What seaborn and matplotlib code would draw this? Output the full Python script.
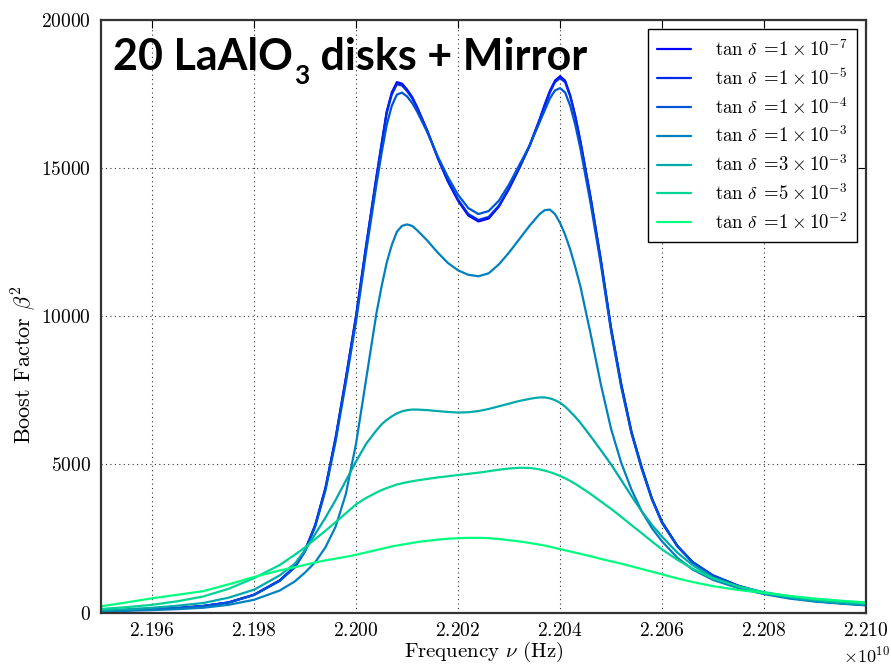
import numpy as np
import pandas as pd
import matplotlib
matplotlib.use("Agg")
import matplotlib.pyplot as plt
import matplotlib.ticker as mticker
import seaborn as sns

# ---------------- data (frequency in units of 1e10 Hz) ----------------
freq = [2.1950, 2.1955, 2.1960, 2.1965, 2.1970, 2.1975, 2.1980, 2.1985, 2.1988, 2.1990,
        2.1992, 2.1994, 2.1996, 2.1998, 2.2000, 2.2002, 2.2004, 2.2005, 2.2006, 2.2007,
        2.2008, 2.2009, 2.2010, 2.2011, 2.2012, 2.2014, 2.2016, 2.2018, 2.2020, 2.2022,
        2.2024, 2.2026, 2.2028, 2.2030, 2.2032, 2.2034, 2.2035, 2.2036, 2.2037, 2.2038,
        2.2039, 2.2040, 2.2041, 2.2042, 2.2043, 2.2044, 2.2046, 2.2048, 2.2050, 2.2052,
        2.2054, 2.2056, 2.2058, 2.2060, 2.2063, 2.2066, 2.2070, 2.2075, 2.2080, 2.2085,
        2.2090, 2.2095, 2.2100]

boost_1e7 = [60, 80, 110, 150, 220, 340, 600, 1080, 1550, 2100,
             2950, 4200, 5900, 7900, 10000, 12400, 14700, 15800, 16900, 17550,
             17900, 17850, 17650, 17400, 17050, 16250, 15350, 14550, 13900, 13400,
             13200, 13300, 13700, 14300, 15000, 15750, 16200, 16650, 17150, 17600,
             17950, 18100, 17950, 17450, 16750, 15900, 14000, 11900, 9600, 7700,
             6100, 4900, 3850, 3050, 2250, 1700, 1250, 900, 660, 500,
             390, 320, 260]
boost_1e5 = [60, 80, 110, 150, 220, 340, 600, 1080, 1550, 2100,
             2950, 4200, 5900, 7900, 10000, 12400, 14700, 15780, 16850, 17480,
             17830, 17790, 17600, 17360, 17020, 16240, 15360, 14580, 13940, 13450,
             13250, 13350, 13730, 14320, 15000, 15740, 16180, 16620, 17100, 17550,
             17900, 18040, 17900, 17420, 16720, 15880, 13980, 11880, 9590, 7690,
             6090, 4900, 3850, 3050, 2250, 1700, 1250, 900, 660, 500,
             390, 320, 260]
boost_1e4 = [60, 80, 110, 150, 215, 335, 590, 1060, 1520, 2060,
             2900, 4120, 5780, 7750, 9820, 12200, 14450, 15500, 16450, 17100,
             17480, 17550, 17420, 17200, 16900, 16200, 15400, 14700, 14100, 13650,
             13450, 13550, 13900, 14450, 15100, 15750, 16150, 16550, 16950, 17350,
             17620, 17700, 17550, 17100, 16450, 15650, 13800, 11750, 9500, 7600,
             6050, 4850, 3820, 3020, 2230, 1690, 1240, 890, 650, 495,
             385, 315, 255]
boost_1e3 = [40, 60, 80, 115, 160, 260, 430, 740, 1050, 1350,
             1700, 2200, 2900, 4000, 5700, 7900, 10100, 11000, 11800, 12400,
             12850, 13050, 13100, 13050, 12900, 12550, 12150, 11800, 11550, 11400,
             11350, 11450, 11750, 12150, 12600, 13050, 13250, 13450, 13580, 13600,
             13450, 13150, 12750, 12250, 11650, 11000, 9400, 7700, 6200, 5050,
             4150, 3420, 2850, 2400, 1850, 1450, 1100, 820, 620, 470,
             370, 300, 240]
boost_3e3 = [70, 110, 160, 230, 320, 500, 770, 1250, 1650, 2100,
             2650, 3200, 3800, 4450, 5100, 5700, 6150, 6350, 6500, 6620,
             6720, 6790, 6830, 6850, 6850, 6830, 6800, 6770, 6750, 6760,
             6800, 6870, 6960, 7050, 7140, 7210, 7240, 7260, 7260, 7230,
             7170, 7080, 6950, 6780, 6600, 6400, 5950, 5480, 5000, 4470,
             3930, 3420, 2960, 2560, 2020, 1600, 1170, 860, 660, 510,
             400, 330, 280]
boost_5e3 = [120, 180, 260, 380, 540, 800, 1160, 1600, 1950, 2200,
             2480, 2760, 3050, 3350, 3650, 3870, 4050, 4130, 4200, 4260,
             4320, 4360, 4400, 4430, 4460, 4510, 4560, 4600, 4640, 4680,
             4720, 4770, 4820, 4860, 4885, 4880, 4860, 4830, 4790, 4740,
             4680, 4610, 4530, 4440, 4340, 4230, 4000, 3750, 3500, 3230,
             2950, 2680, 2400, 2130, 1780, 1480, 1150, 880, 690, 550,
             440, 370, 310]
boost_1e2 = [210, 340, 480, 600, 720, 950, 1200, 1420, 1530, 1610,
             1690, 1760, 1820, 1880, 1950, 2030, 2110, 2150, 2190, 2230,
             2260, 2290, 2320, 2350, 2380, 2420, 2460, 2490, 2510, 2520,
             2520, 2510, 2480, 2440, 2400, 2350, 2320, 2290, 2260, 2220,
             2180, 2140, 2100, 2060, 2020, 1980, 1900, 1810, 1730, 1650,
             1560, 1470, 1380, 1290, 1150, 1030, 890, 760, 660, 560,
             470, 400, 340]

labels = [r"$\tan\,\delta\;=\!1\times10^{-7}$",
          r"$\tan\,\delta\;=\!1\times10^{-5}$",
          r"$\tan\,\delta\;=\!1\times10^{-4}$",
          r"$\tan\,\delta\;=\!1\times10^{-3}$",
          r"$\tan\,\delta\;=\!3\times10^{-3}$",
          r"$\tan\,\delta\;=\!5\times10^{-3}$",
          r"$\tan\,\delta\;=\!1\times10^{-2}$"]
series = [boost_1e7, boost_1e5, boost_1e4, boost_1e3, boost_3e3, boost_5e3, boost_1e2]

# ---------------- style ----------------
sns.set_theme(style="white")
plt.rcParams.update({
    "font.family": "serif",
    "font.serif": ["cmr10", "DejaVu Serif"],
    "mathtext.fontset": "cm",
    "axes.formatter.use_mathtext": True,
    "axes.unicode_minus": False,
    "xtick.direction": "in",
    "ytick.direction": "in",
    "text.color": "black",
    "axes.labelcolor": "black",
    "xtick.color": "black",
    "ytick.color": "black",
})

fig = plt.figure(figsize=(8.91, 6.66), dpi=100)
ax = fig.add_axes([0.1134, 0.0803, 0.8586, 0.8897])

colors = plt.get_cmap("winter")(np.linspace(0, 1, len(series)))
for vals, lab, col in zip(series, labels, colors):
    df = pd.DataFrame({"f": np.array(freq) * 1e10, "b": vals})
    sns.lineplot(data=df, x="f", y="b", color=col, lw=1.6, label=lab, ax=ax,
                 sort=False, legend=False)

ax.set_xlim(2.195e10, 2.210e10)
ax.set_ylim(0, 20000)
ax.xaxis.set_major_locator(mticker.MultipleLocator(2e7))
ax.yaxis.set_major_locator(mticker.MultipleLocator(5000))
fmt = mticker.ScalarFormatter(useMathText=True, useOffset=False)
fmt.set_powerlimits((0, 0))
ax.xaxis.set_major_formatter(fmt)

ax.grid(True, color="black", linestyle=(0, (1, 3)), linewidth=0.8, alpha=0.8)
ax.tick_params(axis="both", which="major", labelsize=14, length=6, width=0.8,
               color="black", top=True, right=True, pad=7)
off = ax.xaxis.get_offset_text()
off.set_fontsize(13)
off.set_horizontalalignment("center")
for s in ax.spines.values():
    s.set_color("#333333")
    s.set_linewidth(1.6)
    s.set_visible(True)

ax.set_xlabel(r"Frequency $\nu$ (Hz)", fontsize=15, labelpad=0)
ax.set_ylabel(r"Boost Factor $\beta^2$", fontsize=16)
ax.yaxis.set_label_coords(-0.083, 0.418)

handles, labs = ax.get_legend_handles_labels()
leg = ax.legend(handles, labs, loc="upper right", fontsize=13.5, frameon=True,
                fancybox=False, edgecolor="black", framealpha=1,
                bbox_to_anchor=(0.988, 0.984), handlelength=1.8,
                handletextpad=1.3, labelspacing=0.42, borderpad=0.5,
                borderaxespad=0.0)
leg.get_frame().set_linewidth(1.0)

# title-like annotation with subscript
t1 = ax.text(0.0157, 0.9156, "20 LaAlO", transform=ax.transAxes, fontsize=31,
             fontweight="bold", family="Lato", color="black", va="baseline", ha="left")
t2 = ax.annotate("3", xy=(1, 0), xycoords=t1, xytext=(1, -8), textcoords="offset points",
                 fontsize=19, fontweight="bold", family="Lato", color="black",
                 va="bottom", ha="left")
t3 = ax.annotate(" disks + Mirror", xy=(1, 0), xycoords=(t2, t1), xytext=(0, 0),
                 textcoords="offset points", fontsize=31, fontweight="bold",
                 family="Lato", color="black", va="bottom", ha="left")

fig.savefig("out.png", dpi=100)
